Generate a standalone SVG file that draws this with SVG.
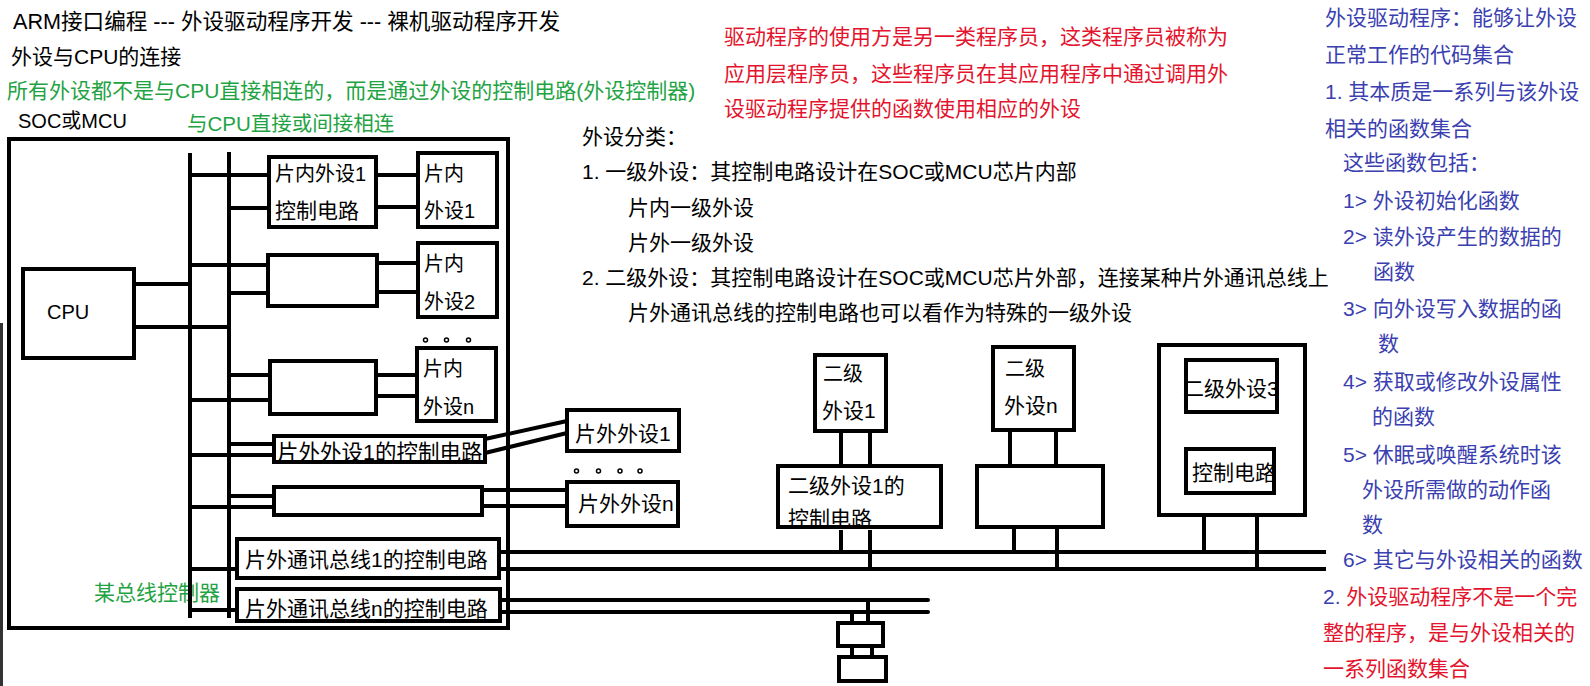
<svg xmlns="http://www.w3.org/2000/svg" width="1590" height="686" viewBox="0 0 1590 686">
<style>
.bx{fill:none;stroke:#000;stroke-width:4}
.ln{stroke:#000;stroke-width:4;fill:none}
.rc{stroke-linecap:round}
.t{font-family:"Liberation Sans","Noto Sans CJK SC",sans-serif;font-size:21px;fill:#000}
.s20{font-size:20px}
.s22{font-size:21.5px}
.g{fill:#1fa343}
.r{fill:#e3142d}
.b{fill:#3b3fb0}
.dot{fill:none;stroke:#000;stroke-width:1.5}
</style>
<rect width="1590" height="686" fill="#fff"/>
<rect x="0" y="323" width="3" height="363" fill="#333"/>

<g id="texts">
<text class="t" x="13" y="29" style="font-size:21.6px">ARM接口编程 --- 外设驱动程序开发 --- 裸机驱动程序开发</text>
<text class="t" x="11" y="64">外设与CPU的连接</text>
<text class="t g" x="7" y="98">所有外设都不是与CPU直接相连的，而是通过外设的控制电路(外设控制器)</text>
<text class="t g" x="187" y="131" style="font-size:20.5px">与CPU直接或间接相连</text>
<text class="t g" x="94" y="600">某总线控制器</text>
<text class="t r" x="724" y="44">驱动程序的使用方是另一类程序员，这类程序员被称为</text>
<text class="t r" x="724" y="81">应用层程序员，这些程序员在其应用程序中通过调用外</text>
<text class="t r" x="724" y="116">设驱动程序提供的函数使用相应的外设</text>
<text class="t" x="582" y="144">外设分类：</text>
<text class="t" x="582" y="179">1. 一级外设：其控制电路设计在SOC或MCU芯片内部</text>
<text class="t" x="628" y="215">片内一级外设</text>
<text class="t" x="628" y="250">片外一级外设</text>
<text class="t" x="582" y="285">2. 二级外设：其控制电路设计在SOC或MCU芯片外部，连接某种片外通讯总线上</text>
<text class="t" x="628" y="320">片外通讯总线的控制电路也可以看作为特殊的一级外设</text>
<text class="t b" x="1325" y="25">外设驱动程序：能够让外设</text>
<text class="t b" x="1325" y="62">正常工作的代码集合</text>
<text class="t b" x="1325" y="99">1. 其本质是一系列与该外设</text>
<text class="t b" x="1325" y="136">相关的函数集合</text>
<text class="t b" x="1343" y="170">这些函数包括：</text>
<text class="t b" x="1343" y="208">1&gt; 外设初始化函数</text>
<text class="t b" x="1343" y="244">2&gt; 读外设产生的数据的</text>
<text class="t b" x="1373" y="279">函数</text>
<text class="t b" x="1343" y="316">3&gt; 向外设写入数据的函</text>
<text class="t b" x="1378" y="351">数</text>
<text class="t b" x="1343" y="389">4&gt; 获取或修改外设属性</text>
<text class="t b" x="1372" y="424">的函数</text>
<text class="t b" x="1343" y="462">5&gt; 休眠或唤醒系统时该</text>
<text class="t b" x="1362" y="497">外设所需做的动作函</text>
<text class="t b" x="1362" y="532">数</text>
<text class="t b" x="1343" y="567">6&gt; 其它与外设相关的函数</text>
<text class="t b" x="1323" y="604">2. <tspan class="r">外设驱动程序不是一个完</tspan></text>
<text class="t r" x="1323" y="640">整的程序，是与外设相关的</text>
<text class="t r" x="1323" y="676">一系列函数集合</text>
</g>

<g id="connectors" class="ln">
<path d="M190 153V618M229 152V618"/>
<path d="M134 284H190M134 327H229"/>
<path d="M190 175H269M229 208H269M376 175H418M376 207H418"/>
<path d="M190 265H268M229 293H268M377 263H418M377 292H418"/>
<path d="M229 375H270M190 400H270M376 375H417M376 396H417"/>
<path d="M229 444H274M190 455H274M485 439L567 421M485 453L567 433"/>
<path d="M229 496H274M190 507H274M482 490H567M482 506H567"/>
<path d="M190 569H237M190 610H237"/>
<path d="M499 552H1326M499 569H1326"/>
<path class="rc" d="M500 600H928M500 612H928"/>
<path d="M841 431V466M870 431V466M841 527V552M870 527V569"/>
<path d="M1010 430V466M1056 430V466M1014 527V552M1057 527V569"/>
<path d="M1204 515V552M1257 515V569"/>
<path d="M868 600V623M852 612V623M852 646V657M872 646V657"/>
</g>

<g id="soc">
<rect class="bx" x="9" y="139" width="499" height="489"/>
<text class="t s20" x="18" y="128">SOC或MCU</text>
</g>
<g id="cpu">
<rect class="bx" x="23" y="269" width="111" height="89"/>
<text class="t s20" x="47" y="319">CPU</text>
</g>
<g id="ctrl-in1">
<text class="t s20" x="275" y="181">片内外设1</text>
<text class="t" x="275" y="218">控制电路</text>
<rect class="bx" x="269" y="157" width="107" height="70"/>
</g>
<g id="dev-in1">
<text class="t s20" x="424" y="181">片内</text>
<text class="t s20" x="424" y="218">外设1</text>
<rect class="bx" x="418" y="153" width="79" height="74"/>
</g>
<g id="ctrl-in2">
<rect class="bx" x="268" y="255" width="109" height="51"/>
</g>
<g id="dev-in2">
<text class="t s20" x="424" y="271">片内</text>
<text class="t s20" x="424" y="309">外设2</text>
<rect class="bx" x="418" y="243" width="79" height="74"/>
</g>
<g id="dots-in">
<circle class="dot" cx="425.5" cy="340" r="2"/>
<circle class="dot" cx="446.5" cy="340" r="2"/>
<circle class="dot" cx="468.5" cy="340" r="2"/>
</g>
<g id="ctrl-inn">
<rect class="bx" x="270" y="361" width="106" height="53"/>
</g>
<g id="dev-inn">
<text class="t s20" x="423" y="376">片内</text>
<text class="t s20" x="423" y="414">外设n</text>
<rect class="bx" x="417" y="348" width="79" height="73"/>
</g>
<g id="ctrl-out1">
<text class="t s22" x="277" y="460">片外外设1的控制电路</text>
<rect class="bx" x="274" y="436" width="211" height="26"/>
</g>
<g id="dev-out1">
<text class="t" x="575" y="441">片外外设1</text>
<rect class="bx" x="567" y="410" width="112" height="41"/>
</g>
<g id="dots-out">
<circle class="dot" cx="576.5" cy="471" r="2"/>
<circle class="dot" cx="598.5" cy="471" r="2"/>
<circle class="dot" cx="620" cy="471" r="2"/>
<circle class="dot" cx="640" cy="471" r="2"/>
</g>
<g id="ctrl-outn">
<rect class="bx" x="274" y="487" width="208" height="28"/>
</g>
<g id="dev-outn">
<text class="t" x="578" y="511">片外外设n</text>
<rect class="bx" x="567" y="482" width="111" height="44"/>
</g>
<g id="bus-ctrl1">
<text class="t" x="245" y="567">片外通讯总线1的控制电路</text>
<rect class="bx" x="237" y="539" width="262" height="39"/>
</g>
<g id="bus-ctrln">
<text class="t" x="245" y="616">片外通讯总线n的控制电路</text>
<rect class="bx" x="237" y="589" width="263" height="32"/>
</g>
<g id="dev2-1">
<text class="t s20" x="823" y="381">二级</text>
<text class="t" x="822" y="418">外设1</text>
<rect class="bx" x="815" y="355" width="71" height="76"/>
</g>
<g id="ctrl2-1">
<text class="t" x="788" y="493">二级外设1的</text>
<text class="t" x="788" y="526">控制电路</text>
<rect fill="#fff" x="778" y="527" width="163" height="3"/>
<rect class="bx" x="778" y="466" width="163" height="61"/>
</g>
<g id="dev2-n">
<text class="t s20" x="1005" y="376">二级</text>
<text class="t" x="1004" y="413">外设n</text>
<rect class="bx" x="993" y="347" width="81" height="83"/>
</g>
<g id="ctrl2-n">
<rect class="bx" x="977" y="466" width="126" height="61"/>
</g>
<g id="dev2-3">
<rect class="bx" x="1159" y="345" width="146" height="170"/>
<text class="t" x="1183" y="396">二级外设3</text>
<rect fill="#fff" x="1279" y="362" width="6" height="48"/>
<rect class="bx" x="1186" y="360" width="91" height="52"/>
<text class="t" x="1192" y="480">控制电路</text>
<rect class="bx" x="1186" y="449" width="88" height="44"/>
</g>
<g id="dev-bottom1">
<rect class="bx" x="838" y="623" width="45" height="23"/>
</g>
<g id="dev-bottom2">
<rect class="bx" x="839" y="657" width="47" height="24"/>
</g>
</svg>
